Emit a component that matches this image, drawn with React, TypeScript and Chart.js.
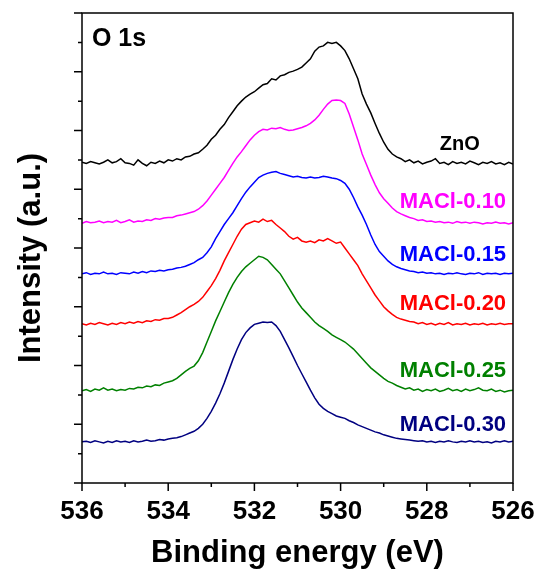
import React, { useEffect, useRef } from 'react';
import { Chart, registerables } from 'chart.js';
Chart.register(...registerables);

// Binding energy grid (eV)
const energies = [
  536.0, 535.9, 535.8, 535.7, 535.6, 535.5, 535.4, 535.3, 535.2, 535.1,
  535.0, 534.9, 534.8, 534.7, 534.6, 534.5, 534.4, 534.3, 534.2, 534.1,
  534.0, 533.9, 533.8, 533.7, 533.6, 533.5, 533.4, 533.3, 533.2, 533.1,
  533.0, 532.9, 532.8, 532.7, 532.6, 532.5, 532.4, 532.3, 532.2, 532.1,
  532.0, 531.9, 531.8, 531.7, 531.6, 531.5, 531.4, 531.3, 531.2, 531.1,
  531.0, 530.9, 530.8, 530.7, 530.6, 530.5, 530.4, 530.3, 530.2, 530.1,
  530.0, 529.9, 529.8, 529.7, 529.6, 529.5, 529.4, 529.3, 529.2, 529.1,
  529.0, 528.9, 528.8, 528.7, 528.6, 528.5, 528.4, 528.3, 528.2, 528.1,
  528.0, 527.9, 527.8, 527.7, 527.6, 527.5, 527.4, 527.3, 527.2, 527.1,
  527.0, 526.9, 526.8, 526.7, 526.6, 526.5, 526.4, 526.3, 526.2, 526.1,
  526.0,
];

const znO = [
  5.46, 5.44, 5.47, 5.45, 5.43, 5.46, 5.50, 5.45, 5.47, 5.52,
  5.45, 5.44, 5.41, 5.50, 5.44, 5.40, 5.46, 5.44, 5.48, 5.45,
  5.50, 5.48, 5.52, 5.50, 5.55, 5.56, 5.60, 5.62, 5.68, 5.75,
  5.85, 5.92, 6.02, 6.10, 6.22, 6.32, 6.42, 6.50, 6.57, 6.62,
  6.66, 6.72, 6.78, 6.80, 6.88, 6.86, 6.93, 6.95, 6.99, 7.01,
  7.04, 7.08, 7.15, 7.22, 7.35, 7.42, 7.44, 7.50, 7.48, 7.50,
  7.44, 7.36, 7.22, 7.05, 6.88, 6.62, 6.45, 6.30, 6.12, 5.95,
  5.80, 5.68, 5.60, 5.55, 5.52, 5.47, 5.50, 5.45, 5.48, 5.43,
  5.46, 5.48, 5.52, 5.44, 5.46, 5.42, 5.47, 5.44, 5.46, 5.43,
  5.48, 5.45, 5.42, 5.46, 5.44, 5.47, 5.43, 5.45, 5.42, 5.46,
  5.43,
];

const maCl010 = [
  4.42, 4.45, 4.43, 4.44, 4.46, 4.43, 4.45, 4.44, 4.47, 4.43,
  4.45, 4.48, 4.44, 4.46, 4.45, 4.48, 4.47, 4.50, 4.49, 4.51,
  4.52, 4.52, 4.55, 4.56, 4.58, 4.60, 4.62, 4.66, 4.72, 4.80,
  4.90, 5.00, 5.10, 5.20, 5.32, 5.44, 5.55, 5.64, 5.74, 5.84,
  5.92, 5.98, 6.02, 6.01, 6.04, 6.03, 6.05, 6.02, 6.00, 6.01,
  6.03, 6.05, 6.08, 6.12, 6.18, 6.26, 6.36, 6.45, 6.51, 6.52,
  6.51, 6.46, 6.28, 6.06, 5.84, 5.60, 5.42, 5.24, 5.08, 4.94,
  4.84, 4.76, 4.68, 4.62, 4.58, 4.55, 4.52, 4.50, 4.47, 4.48,
  4.45, 4.46, 4.44, 4.45, 4.43, 4.44, 4.42, 4.45, 4.43, 4.44,
  4.42, 4.44, 4.43, 4.41, 4.43, 4.42, 4.44, 4.42, 4.43, 4.41,
  4.43,
];

const maCl015 = [
  3.56, 3.58, 3.55, 3.57, 3.56, 3.59, 3.56, 3.57, 3.55, 3.58,
  3.57, 3.56, 3.59, 3.57, 3.60, 3.58, 3.61, 3.60, 3.62, 3.61,
  3.63, 3.64, 3.66, 3.67, 3.69, 3.72, 3.75, 3.80, 3.84, 3.92,
  4.02, 4.16, 4.28, 4.40, 4.50, 4.60, 4.72, 4.84, 4.95, 5.04,
  5.12, 5.20, 5.24, 5.27, 5.29, 5.30, 5.27, 5.25, 5.23, 5.21,
  5.22, 5.20, 5.19, 5.21, 5.19, 5.20, 5.22, 5.21, 5.19, 5.18,
  5.15, 5.10, 5.00, 4.86, 4.70, 4.56, 4.40, 4.22, 4.06, 3.94,
  3.86, 3.78, 3.72, 3.68, 3.65, 3.63, 3.61, 3.60, 3.58, 3.59,
  3.57, 3.58, 3.56, 3.57, 3.55, 3.57, 3.56, 3.58, 3.56, 3.55,
  3.57, 3.56, 3.58, 3.55, 3.57, 3.56, 3.57, 3.55, 3.57, 3.56,
  3.57,
];

const maCl020 = [
  2.71, 2.69, 2.72, 2.70, 2.73, 2.71, 2.69, 2.72, 2.70, 2.73,
  2.71, 2.74, 2.72, 2.75, 2.73, 2.76, 2.75, 2.78, 2.77, 2.80,
  2.80, 2.82, 2.86, 2.90, 2.95, 3.00, 3.04, 3.09, 3.16, 3.26,
  3.36, 3.48, 3.62, 3.78, 3.92, 4.06, 4.20, 4.32, 4.40, 4.43,
  4.46, 4.44, 4.49, 4.45, 4.47, 4.40, 4.34, 4.28, 4.20, 4.15,
  4.18, 4.12, 4.10, 4.12, 4.09, 4.14, 4.12, 4.16, 4.12, 4.08,
  4.10, 4.00, 3.90, 3.80, 3.70, 3.56, 3.44, 3.32, 3.20, 3.10,
  3.00, 2.93, 2.87, 2.82, 2.79, 2.77, 2.75, 2.74, 2.71, 2.73,
  2.70, 2.72, 2.69, 2.72, 2.70, 2.73, 2.69, 2.71, 2.70, 2.72,
  2.69, 2.71, 2.70, 2.72, 2.69, 2.71, 2.70, 2.72, 2.70, 2.71,
  2.71,
];

const maCl025 = [
  1.57, 1.59, 1.56, 1.60, 1.58, 1.62, 1.58, 1.60, 1.57, 1.59,
  1.58, 1.61, 1.60, 1.63, 1.62, 1.65, 1.64, 1.67, 1.66, 1.70,
  1.72, 1.74, 1.78, 1.84, 1.90, 1.95, 1.99, 2.08, 2.22, 2.40,
  2.58, 2.76, 2.92, 3.08, 3.24, 3.38, 3.50, 3.60, 3.68, 3.74,
  3.80, 3.86, 3.84, 3.80, 3.72, 3.64, 3.56, 3.44, 3.32, 3.20,
  3.08, 2.98, 2.90, 2.82, 2.74, 2.68, 2.63, 2.58, 2.52, 2.48,
  2.44, 2.40, 2.34, 2.28, 2.20, 2.12, 2.04, 1.96, 1.90, 1.84,
  1.78, 1.73, 1.70, 1.66, 1.63, 1.60, 1.62, 1.58, 1.60, 1.56,
  1.59, 1.57, 1.60, 1.56, 1.58, 1.61, 1.57, 1.59, 1.56, 1.60,
  1.57, 1.59, 1.62, 1.58, 1.57, 1.60, 1.56, 1.58, 1.55, 1.57,
  1.58,
];

const maCl030 = [
  0.70, 0.71, 0.69, 0.72, 0.70, 0.68, 0.71, 0.69, 0.72, 0.70,
  0.71, 0.69, 0.72, 0.70, 0.71, 0.73, 0.71, 0.72, 0.74, 0.73,
  0.75, 0.76, 0.77, 0.79, 0.82, 0.85, 0.88, 0.93, 1.00, 1.10,
  1.22, 1.36, 1.52, 1.70, 1.90, 2.10, 2.28, 2.44, 2.56, 2.64,
  2.70, 2.72, 2.74, 2.73, 2.74, 2.68, 2.58, 2.44, 2.30, 2.15,
  2.00, 1.86, 1.72, 1.58, 1.45, 1.34, 1.27, 1.22, 1.18, 1.14,
  1.12, 1.10, 1.06, 1.03, 0.99, 0.96, 0.93, 0.90, 0.87, 0.85,
  0.82, 0.80, 0.78, 0.76, 0.75, 0.74, 0.73, 0.72, 0.71, 0.72,
  0.70, 0.71, 0.69, 0.71, 0.70, 0.72, 0.70, 0.69, 0.71, 0.70,
  0.72, 0.70, 0.71, 0.69, 0.70, 0.68, 0.71, 0.70, 0.72, 0.70,
  0.71,
];

const seriesNames = ['ZnO', 'MACl-0.10', 'MACl-0.15', 'MACl-0.20', 'MACl-0.25', 'MACl-0.30'];
const seriesValues = [znO, maCl010, maCl015, maCl020, maCl025, maCl030];
const seriesColors = ['#000000', '#ff00ff', '#0000ff', '#ff0000', '#008000', '#000080'];

// curve-label anchors in data units (right edge energy, vertical centre)
const labelEnergy = [526.77, 526.16, 526.16, 526.16, 526.16, 526.16];
const labelLevel = [5.77, 4.79, 3.89, 3.05, 1.90, 0.98];
const labelSize = [20, 22, 22, 22, 22, 22];

const xMajorTicks = [536, 534, 532, 530, 528, 526];
const xMinorTicks = [535, 533, 531, 529, 527];
const yMajorTicks = [0, 1, 2, 3, 4, 5, 6, 7, 8];
const yMinorTicks = [0.5, 1.5, 2.5, 3.5, 4.5, 5.5, 6.5, 7.5];

const FONT = '"Liberation Sans", Arial, sans-serif';

const framePlugin = {
  id: 'framePlugin',
  afterDatasetsDraw(chart: any) {
    const { ctx, chartArea: a, scales } = chart;
    const x = scales.x;
    const y = scales.y;
    ctx.save();
    ctx.strokeStyle = '#000';
    ctx.lineWidth = 1.5;
    ctx.strokeRect(a.left, a.top, a.right - a.left, a.bottom - a.top);
    ctx.beginPath();
    xMajorTicks.forEach((v) => {
      const p = x.getPixelForValue(v);
      ctx.moveTo(p, a.bottom);
      ctx.lineTo(p, a.bottom + 8);
    });
    xMinorTicks.forEach((v) => {
      const p = x.getPixelForValue(v);
      ctx.moveTo(p, a.bottom);
      ctx.lineTo(p, a.bottom + 4);
    });
    yMajorTicks.forEach((v) => {
      const p = y.getPixelForValue(v);
      ctx.moveTo(a.left, p);
      ctx.lineTo(a.left - 8, p);
    });
    yMinorTicks.forEach((v) => {
      const p = y.getPixelForValue(v);
      ctx.moveTo(a.left, p);
      ctx.lineTo(a.left - 4, p);
    });
    ctx.stroke();

    ctx.textBaseline = 'middle';
    ctx.textAlign = 'left';
    ctx.fillStyle = '#000';
    ctx.font = `bold 25px ${FONT}`;
    ctx.fillText('O 1s', x.getPixelForValue(535.77), y.getPixelForValue(7.55));

    ctx.textAlign = 'right';
    seriesNames.forEach((name, i) => {
      ctx.font = `bold ${labelSize[i]}px ${FONT}`;
      ctx.fillStyle = seriesColors[i];
      ctx.fillText(name, x.getPixelForValue(labelEnergy[i]), y.getPixelForValue(labelLevel[i]));
    });

    // y-axis title
    ctx.save();
    ctx.translate(31, (a.top + a.bottom) / 2 + 10);
    ctx.rotate(-Math.PI / 2);
    ctx.textAlign = 'center';
    ctx.textBaseline = 'middle';
    ctx.fillStyle = '#000';
    ctx.font = `bold 31px ${FONT}`;
    ctx.fillText('Intensity (a.u.)', 0, 0);
    ctx.restore();

    ctx.restore();
  },
};

export default function App() {
  const ref = useRef<HTMLCanvasElement | null>(null);
  useEffect(() => {
    document.body.style.margin = '0';
    const canvas = ref.current;
    if (!canvas) return;
    const chart = new Chart(canvas, {
      type: 'line',
      data: {
        datasets: seriesNames.map((name, i) => ({
          label: name,
          data: energies.map((e, j) => ({ x: e, y: seriesValues[i][j] })),
          borderColor: seriesColors[i],
          borderWidth: 1.5,
          pointRadius: 0,
          tension: 0,
          fill: false,
        })),
      },
      options: {
        responsive: false,
        animation: false,
        devicePixelRatio: 1,
        layout: { padding: { left: 0, top: 13, right: 26, bottom: 0 } },
        plugins: { legend: { display: false }, tooltip: { enabled: false } },
        scales: {
          x: {
            type: 'linear',
            min: 526,
            max: 536,
            reverse: true,
            grid: { display: false, drawTicks: false },
            border: { display: false },
            ticks: {
              stepSize: 2,
              maxRotation: 0,
              autoSkip: false,
              padding: 13,
              color: '#000',
              font: { family: FONT, size: 26, weight: 'bold' },
              callback: (v: any) => String(v),
            },
            title: {
              display: true,
              text: 'Binding energy (eV)',
              color: '#000',
              font: { family: FONT, size: 31, weight: 'bold' },
              padding: { top: 7, bottom: 5 },
            },
            afterFit: (s: any) => {
              s.height = 94;
              s.paddingLeft = 0;
              s.paddingRight = 0;
            },
          },
          y: {
            type: 'linear',
            min: 0,
            max: 8,
            grid: { display: false, drawTicks: false },
            border: { display: false },
            ticks: { display: false, stepSize: 1 },
            title: { display: false },
            afterFit: (s: any) => {
              s.width = 82;
              s.paddingTop = 0;
              s.paddingBottom = 0;
            },
          },
        },
      },
      plugins: [framePlugin],
    });
    return () => chart.destroy();
  }, []);
  return (
    <div style={{ width: 539, height: 577, background: '#fff' }}>
      <canvas ref={ref} width={539} height={577} style={{ width: 539, height: 577, display: 'block' }} />
    </div>
  );
}
